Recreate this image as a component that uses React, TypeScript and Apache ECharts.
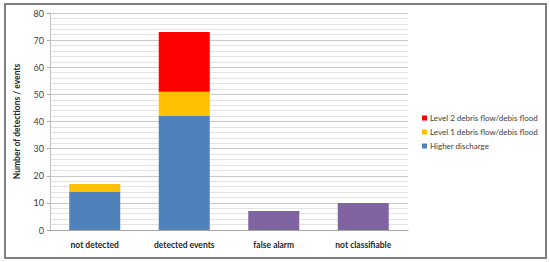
import React, { useEffect, useRef } from "react";
import * as echarts from "echarts";

const categories = ["not detected", "detected events", "false alarm", "not classifiable"];
const higherDischarge = [14, 42, 7, 10];
const level1 = [3, 9, 0, 0];
const level2 = [0, 22, 0, 0];
const purpleCats = [2, 3];
const yTicks = { min: 0, max: 80, interval: 10 };

const BLUE = "#4F81BD";
const YELLOW = "#FFC000";
const RED = "#FF0000";
const PURPLE = "#8064A2";
const FONT = "Lato, 'Open Sans', sans-serif";

export default function App() {
  const ref = useRef<HTMLDivElement>(null);
  useEffect(() => {
    document.body.style.margin = "0";
    const chart = echarts.init(ref.current!, null, { renderer: "svg" });
    const blueData = higherDischarge.map((v, i) =>
      purpleCats.includes(i) ? { value: v, itemStyle: { color: PURPLE } } : v
    );
    const z = (arr: number[]) => arr.map((v) => (v === 0 ? null : v));
    chart.setOption({
      animation: false,
      backgroundColor: "#fff",
      graphic: [
        {
          type: "rect",
          shape: { x: 5, y: 4, width: 541, height: 254 },
          style: { fill: "none", stroke: "#7f7f7f", lineWidth: 2 },
          silent: true,
        },
      ],
      grid: { left: 50, right: 142, top: 13, bottom: 32 },
      legend: {
        orient: "vertical",
        left: 417,
        top: 109,
        itemWidth: 5,
        itemHeight: 5,
        itemGap: 6,
        icon: "rect",
        data: ["Level 2 debris flow/debis flood", "Level 1 debris flow/debis flood", "Higher discharge"],
        textStyle: { fontFamily: FONT, fontSize: 8, color: "#404040", padding: [0, 0, 0, -2] },
      },
      xAxis: {
        type: "category",
        data: categories,
        axisLine: { lineStyle: { color: "#a6a6a6" } },
        axisTick: { show: false },
        axisLabel: { fontFamily: FONT, fontSize: 8.5, fontWeight: "bold", color: "#262626", margin: 10 },
      },
      yAxis: {
        type: "value",
        min: yTicks.min,
        max: yTicks.max,
        interval: yTicks.interval,
        name: "Number of detections / events",
        nameLocation: "middle",
        nameGap: 29,
        nameTextStyle: { fontFamily: FONT, fontSize: 8.5, fontWeight: "bold", color: "#262626" },
        axisLine: { show: true, lineStyle: { color: "#bfbfbf" } },
        axisTick: { show: true, length: 3, lineStyle: { color: "#a6a6a6" } },
        axisLabel: { fontFamily: FONT, fontSize: 9, color: "#404040", margin: 6 },
        splitLine: { lineStyle: { color: "#c8c8c8" } },
        minorTick: { show: false, splitNumber: 5 },
        minorSplitLine: { show: true, lineStyle: { color: "#e3e3e3" } },
      },
      series: [
        {
          name: "Higher discharge",
          type: "bar",
          stack: "s",
          data: blueData,
          barWidth: "57%",
          itemStyle: { color: BLUE },
        },
        {
          name: "Level 1 debris flow/debis flood",
          type: "bar",
          stack: "s",
          data: z(level1),
          itemStyle: { color: YELLOW },
        },
        {
          name: "Level 2 debris flow/debis flood",
          type: "bar",
          stack: "s",
          data: z(level2),
          itemStyle: { color: RED },
        },
      ],
    });
    return () => chart.dispose();
  }, []);
  return <div ref={ref} style={{ width: 550, height: 262 }} />;
}
